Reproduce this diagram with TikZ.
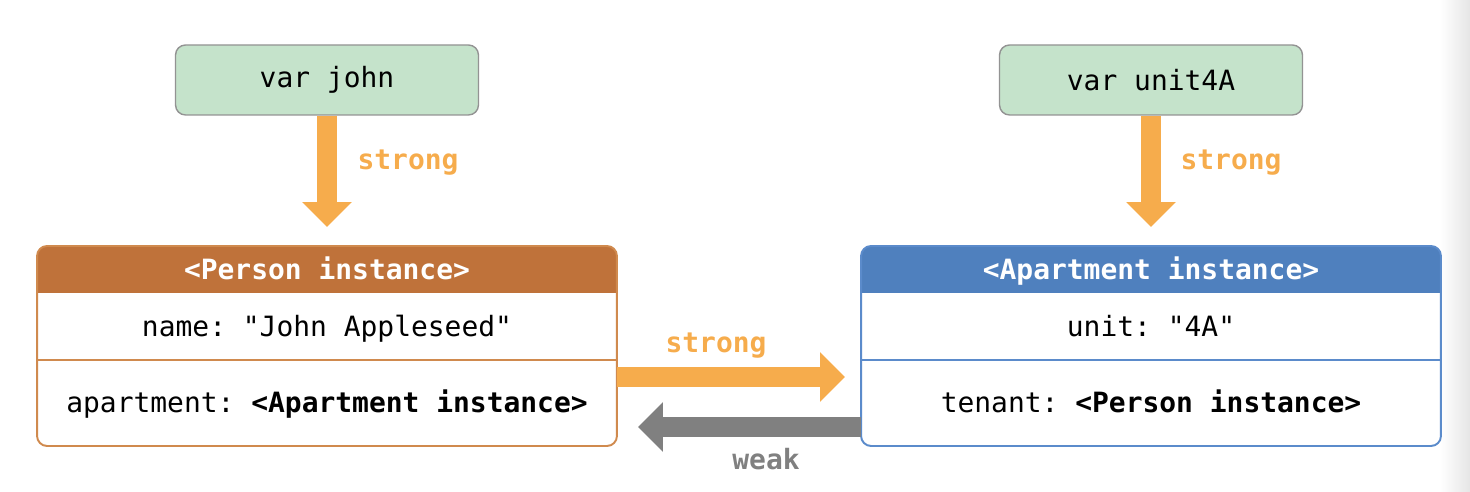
\documentclass[tikz,border=0pt]{standalone}
\usepackage{fontspec}
\setmonofont{DejaVu Sans Mono}
\usetikzlibrary{arrows.meta, backgrounds}

\definecolor{varfill}{HTML}{C5E3CB}
\definecolor{varline}{HTML}{939393}
\definecolor{personhead}{HTML}{BF723A}
\definecolor{personline}{HTML}{D08A4E}
\definecolor{apthead}{HTML}{4F80BE}
\definecolor{aptline}{HTML}{5B8BCB}
\definecolor{strongcol}{HTML}{F6AC4C}
\definecolor{weakcol}{HTML}{808080}

\newcommand{\bigmono}{\ttfamily\fontsize{15.9}{19}\selectfont}

\begin{document}
\begin{tikzpicture}[x=0.02cm, y=-0.02cm,
  var/.style = {draw=varline, fill=varfill, line width=0.8pt, rounded corners=0.2cm,
                minimum width=6.06cm, minimum height=1.4cm, font=\bigmono},
  row/.style = {inner sep=0pt, outer sep=0pt, minimum width=11.6cm, font=\bigmono,
                text height=1.15em, text depth=0.05em},
  head/.style = {row, minimum height=0.94cm, text=white, font=\bigmono\bfseries},
  strongarrow/.style = {draw=strongcol, line width=0.4cm, -{Triangle[width=0.96cm, length=0.5cm]}},
  weakarrow/.style = {draw=weakcol, line width=0.4cm, -{Triangle[width=0.96cm, length=0.5cm]}},
  strongtext/.style = {text=strongcol, font=\bigmono\bfseries, inner sep=0pt},
  weaktext/.style = {text=weakcol, font=\bigmono\bfseries, inner sep=0pt}]

      \useasboundingbox (0,0) rectangle (1470,492);

      \node[var](john) at (327,80) {var john};
      \node[var](unit) at (1151,80) {var unit4A};

      \node[head](personhd) at (327,269.5) {<Person instance>};
      \node[row, minimum height=1.34cm](personr1) at (327,326.5) {name: "John Appleseed"};
      \node[row, minimum height=1.72cm](personr2) at (327,403) {apartment: \textbf{<Apartment instance>}};

      \node[head](apthd) at (1151,269.5) {<Apartment instance>};
      \node[row, minimum height=1.34cm](aptr1) at (1151,326.5) {unit: "4A"};
      \node[row, minimum height=1.72cm](aptr2) at (1151,403) {tenant: \textbf{<Person instance>}};

      \begin{scope}[on background layer]
        \shade[left color=white, right color=black!10] (1440,0) rectangle (1470,492);
        \foreach \b in {person, apt} {
          \fill[white, rounded corners=0.2cm] (\b hd.north west) rectangle (\b r2.south east);
          \begin{scope}
            \clip[rounded corners=0.2cm] (\b hd.north west) rectangle (\b r2.south east);
            \fill[\b head] (\b hd.north west) rectangle (\b hd.south east);
          \end{scope}
          \draw[\b line, line width=1.1pt, rounded corners=0.2cm] (\b hd.north west) rectangle (\b r2.south east);
          \draw[\b line, line width=0.8pt] (\b r1.south west) -- (\b r1.south east);
        }
      \end{scope}

      \draw[strongarrow] (john.south) -- ([yshift=0.38cm]personhd.north);
      \draw[strongarrow] (unit.south) -- ([yshift=0.38cm]apthd.north);
      \draw[strongarrow] ([yshift=-0.34cm]personr2.north east) -- ([xshift=-0.32cm, yshift=-0.34cm]aptr2.north west);
      \draw[weakarrow] ([yshift=-1.34cm]aptr2.north west) -- ([xshift=0.42cm, yshift=-1.34cm]personr2.north east);

      \node[strongtext](johnlbl) at (408,163) {strong};
      \node[strongtext](unitlbl) at (1231,163) {strong};
      \node[strongtext](aptlbl) at (716,346) {strong};
      \node[weaktext](personlbl) at (766,459) {weak};
    \end{tikzpicture}
\end{document}
